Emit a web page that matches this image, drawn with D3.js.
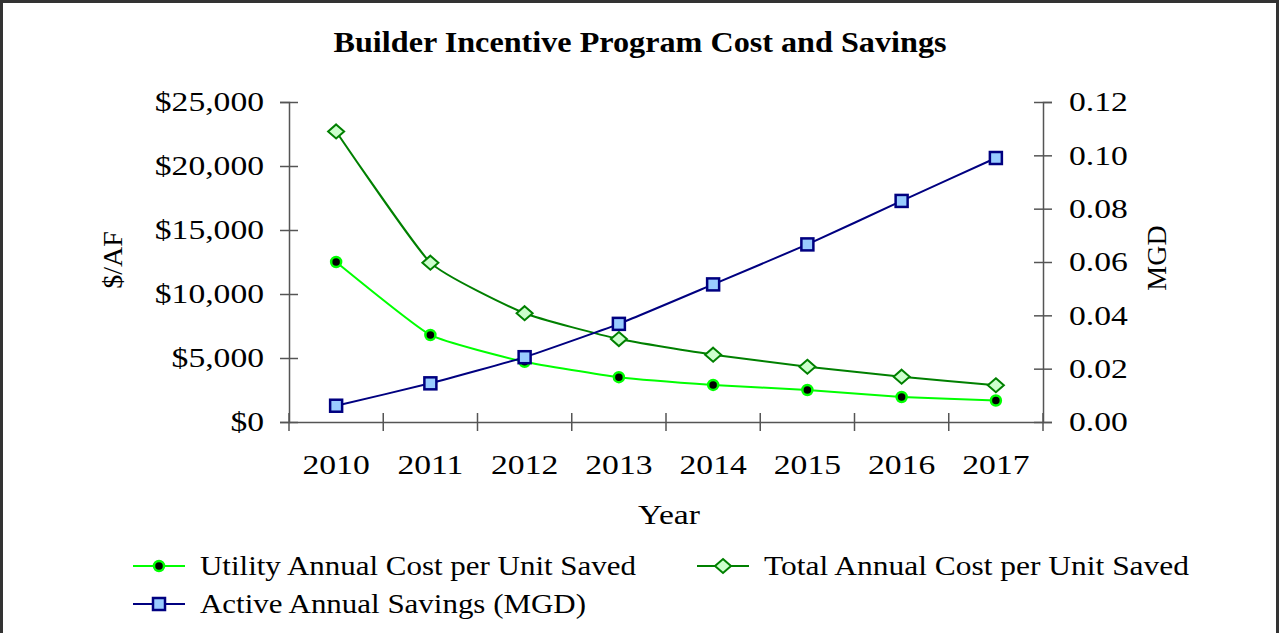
<!DOCTYPE html>
<html>
<head>
<meta charset="utf-8">
<title>Builder Incentive Program Cost and Savings</title>
<script src="https://d3js.org/d3.v7.min.js"></script>
<style>
  body { margin: 0; background: #fff; }
  text { font-family: "Times New Roman", "Liberation Serif", serif; fill: #000; }
</style>
</head>
<body>
<svg id="chart" width="1282" height="633"></svg>
<script>
// data
var years = ["2010", "2011", "2012", "2013", "2014", "2015", "2016", "2017"];
var utilityCost = [12500, 6800, 4700, 3500, 2900, 2500, 1950, 1680];
var totalCost = [22700, 12450, 8500, 6480, 5260, 4320, 3540, 2870];
var activeSavings = [0.0061, 0.0145, 0.0243, 0.0368, 0.0516, 0.0666, 0.0829, 0.099];
var leftTicks = [0, 5000, 10000, 15000, 20000, 25000];
var rightTicks = [0, 0.02, 0.04, 0.06, 0.08, 0.10, 0.12];

var svg = d3.select("#chart");
var stretch = 1.2; // the original picture is wider than the font

// outer frame
svg.append("rect")
  .attr("x", 1.5).attr("y", 1.5)
  .attr("width", 1276).attr("height", 700)
  .attr("fill", "none").attr("stroke", "#333").attr("stroke-width", 3);

var x = d3.scaleBand().domain(years).range([289, 1043]);
var yL = d3.scaleLinear().domain([0, 25000]).range([422, 102]);
var yR = d3.scaleLinear().domain([0, 0.12]).range([422, 102]);
function cx(d, i) { return x(years[i]) + x.bandwidth() / 2; }

function widen(sel, k) {
  sel.each(function() {
    var w = this.getComputedTextLength();
    d3.select(this).attr("textLength", w * k).attr("lengthAdjust", "spacingAndGlyphs");
  });
}

// title
svg.append("text")
  .attr("x", 640).attr("y", 52)
  .attr("text-anchor", "middle")
  .attr("font-size", 29).attr("font-weight", "bold")
  .attr("textLength", 613).attr("lengthAdjust", "spacingAndGlyphs")
  .text("Builder Incentive Program Cost and Savings");

var axisColor = "#555";

// left axis
var gL = svg.append("g").attr("transform", "translate(289,0)")
  .call(d3.axisLeft(yL).tickValues(leftTicks).tickSize(9).tickPadding(16)
    .tickFormat(function(d) { return "$" + d3.format(",")(d); }));
gL.selectAll("line").attr("x1", -9).attr("x2", 9);
gL.selectAll("text").attr("font-size", 28);
widen(gL.selectAll("text"), stretch);

// right axis
var gR = svg.append("g").attr("transform", "translate(1043,0)")
  .call(d3.axisRight(yR).tickValues(rightTicks).tickSize(9).tickPadding(17)
    .tickFormat(d3.format(".2f")));
gR.selectAll("line").attr("x1", -9).attr("x2", 9);
gR.selectAll("text").attr("font-size", 28);
widen(gR.selectAll("text"), stretch);

// bottom axis: labels at band centres, ticks at band edges
var gB = svg.append("g").attr("transform", "translate(0,422)")
  .call(d3.axisBottom(x).tickSize(0).tickPadding(32));
gB.selectAll(".tick text").attr("font-size", 28);
widen(gB.selectAll(".tick text"), stretch);
var edges = years.map(function(d) { return x(d); }).concat([x.range()[1]]);
gB.selectAll("line.edge").data(edges).enter().append("line")
  .attr("class", "edge")
  .attr("x1", function(d) { return d; }).attr("x2", function(d) { return d; })
  .attr("y1", -9).attr("y2", 9)
  .attr("stroke", axisColor);

[gL, gR, gB].forEach(function(g) {
  g.selectAll("path.domain").attr("stroke", axisColor).attr("stroke-width", 1.5);
  g.selectAll("line").attr("stroke", axisColor).attr("stroke-width", 1.5);
});

// axis titles
svg.append("text")
  .attr("transform", "translate(122,260) rotate(-90)")
  .attr("text-anchor", "middle").attr("font-size", 28)
  .text("$/AF");
svg.append("text")
  .attr("transform", "translate(1166,258) rotate(-90)")
  .attr("text-anchor", "middle").attr("font-size", 28)
  .text("MGD");
var xt = svg.append("text")
  .attr("x", 669).attr("y", 524)
  .attr("text-anchor", "middle").attr("font-size", 28)
  .text("Year");
widen(xt, stretch);

// series
var series = [
  { name: "Utility Annual Cost per Unit Saved", values: utilityCost, y: yL, color: "#00ff00", marker: "circle" },
  { name: "Total Annual Cost per Unit Saved", values: totalCost, y: yL, color: "#008000", marker: "diamond" },
  { name: "Active Annual Savings (MGD)", values: activeSavings, y: yR, color: "#000080", marker: "square" }
];

function drawMarker(g, type, px, py) {
  if (type === "circle") {
    g.append("circle").attr("cx", px).attr("cy", py).attr("r", 5)
      .attr("fill", "#000").attr("stroke", "#00ff00").attr("stroke-width", 2.5);
  } else if (type === "diamond") {
    g.append("path")
      .attr("d", "M" + px + "," + (py - 7) + "L" + (px + 8) + "," + py + "L" + px + "," + (py + 7) + "L" + (px - 8) + "," + py + "Z")
      .attr("fill", "#ccffcc").attr("stroke", "#008000").attr("stroke-width", 2);
  } else {
    g.append("rect").attr("x", px - 6).attr("y", py - 6).attr("width", 12).attr("height", 12)
      .attr("fill", "#99ccff").attr("stroke", "#000080").attr("stroke-width", 2.5);
  }
}

series.forEach(function(s) {
  var line = d3.line()
    .x(cx)
    .y(function(d) { return s.y(d); })
    .curve(d3.curveCardinal.tension(0.55));
  svg.append("path")
    .datum(s.values)
    .attr("d", line)
    .attr("fill", "none").attr("stroke", s.color).attr("stroke-width", 2);
});
series.forEach(function(s) {
  var g = svg.append("g");
  s.values.forEach(function(v, i) { drawMarker(g, s.marker, cx(v, i), s.y(v)); });
});

// legend
var legendPos = [[133, 566], [697, 566], [133, 604]];
var legendWidths = [436, 425, 386];
series.forEach(function(s, i) {
  var lx = legendPos[i][0], ly = legendPos[i][1];
  var g = svg.append("g");
  g.append("line").attr("x1", lx).attr("x2", lx + 52).attr("y1", ly).attr("y2", ly)
    .attr("stroke", s.color).attr("stroke-width", 2);
  drawMarker(g, s.marker, lx + 26, ly);
  g.append("text").attr("x", lx + 67).attr("y", ly + 9)
    .attr("font-size", 28)
    .attr("textLength", legendWidths[i]).attr("lengthAdjust", "spacingAndGlyphs")
    .text(s.name);
});
</script>
</body>
</html>
